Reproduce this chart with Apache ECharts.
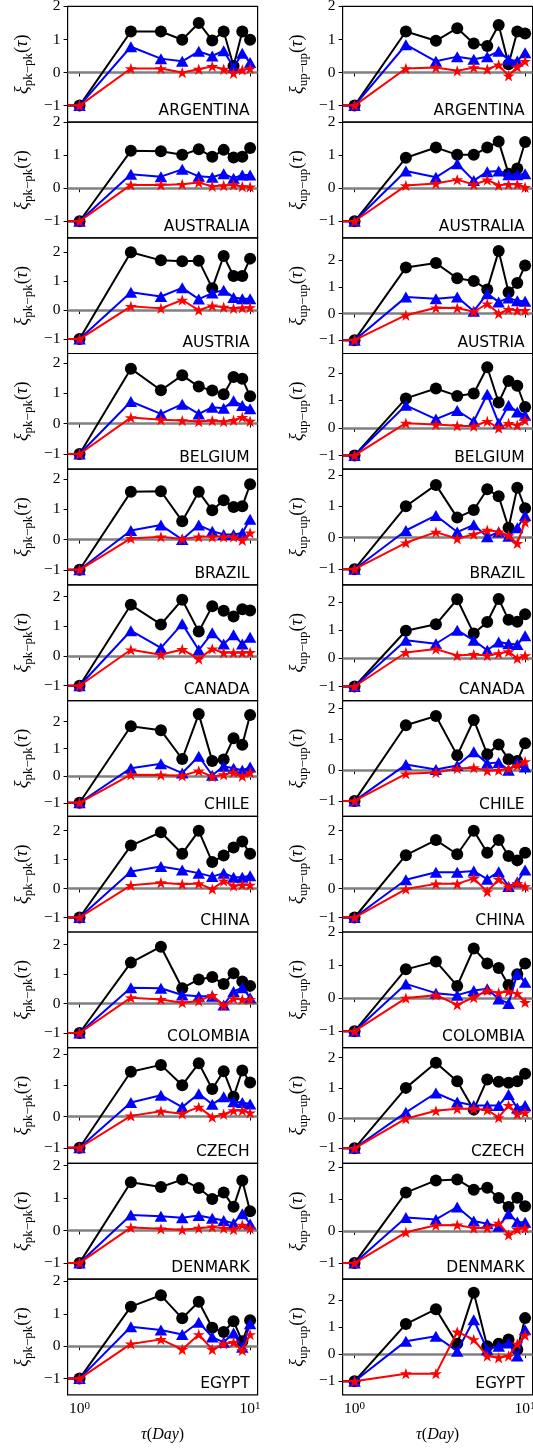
<!DOCTYPE html>
<html><head><meta charset="utf-8">
<script src="https://cdn.jsdelivr.net/npm/echarts@6/dist/echarts.min.js"></script>
<style>html,body{margin:0;padding:0;background:#fff}#c{width:533px;height:1448px}</style>
</head><body><div id="c"></div>
<script>
// ---------------- DATA ----------------
const TAU = [1, 2, 3, 4, 5, 6, 7, 8, 9, 10];
const COUNTRIES = ['ARGENTINA','AUSTRALIA','AUSTRIA','BELGIUM','BRAZIL','CANADA','CHILE','CHINA','COLOMBIA','CZECH','DENMARK','EGYPT'];
const Y_TICKS = [-1, 0, 1, 2, 3];
const X_TICKS = [1, 10];

// xi_pk-pk (left column)
const pkBlack = [
  [-1, 1.24, 1.24, 0.99, 1.50, 0.97, 1.24, 0.20, 1.24, 0.99],
  [-1, 1.13, 1.12, 1.01, 1.18, 0.95, 1.16, 0.93, 0.95, 1.22],
  [-1, 2.00, 1.72, 1.69, 1.71, 0.76, 1.87, 1.18, 1.18, 1.78],
  [-1, 1.81, 1.10, 1.59, 1.22, 1.09, 0.97, 1.54, 1.48, 0.90],
  [-1, 1.58, 1.60, 0.61, 1.58, 0.97, 1.30, 1.08, 1.10, 1.83],
  [-1, 1.72, 1.06, 1.89, 0.82, 1.67, 1.52, 1.33, 1.57, 1.53],
  [-1, 1.83, 1.68, 0.62, 2.28, 0.55, 0.60, 1.39, 1.15, 2.25],
  [-1, 1.48, 1.94, 1.20, 1.99, 0.91, 1.14, 1.41, 1.62, 1.20],
  [-1, 1.39, 1.93, 0.52, 0.82, 0.90, 0.66, 1.03, 0.75, 0.60],
  [-1, 1.43, 1.65, 1.00, 1.70, 0.88, 1.45, 0.63, 1.47, 1.09],
  [-1, 1.49, 1.34, 1.57, 1.31, 0.97, 1.17, 0.73, 1.54, 0.59],
  [-1, 1.22, 1.57, 0.86, 1.37, 0.57, 0.44, 0.77, 0.15, 0.80]
];
const pkBlue = [
  [-1, 0.78, 0.42, 0.34, 0.64, 0.50, 0.66, 0.15, 0.58, 0.30],
  [-1, 0.42, 0.35, 0.57, 0.36, 0.33, 0.44, 0.30, 0.40, 0.40],
  [-1, 0.62, 0.47, 0.77, 0.38, 0.59, 0.69, 0.44, 0.39, 0.39],
  [-1, 0.73, 0.32, 0.64, 0.32, 0.54, 0.51, 0.75, 0.60, 0.49],
  [-1, 0.30, 0.48, 0.00, 0.48, 0.28, 0.17, 0.17, 0.22, 0.67],
  [-1, 0.85, 0.27, 1.08, 0.20, 0.78, 0.40, 0.71, 0.40, 0.63],
  [-1, 0.28, 0.44, 0.10, 0.72, 0.02, 0.35, 0.28, 0.20, 0.32],
  [-1, 0.59, 0.76, 0.64, 0.53, 0.41, 0.53, 0.39, 0.39, 0.44],
  [-1, 0.54, 0.52, 0.29, 0.25, 0.25, -0.05, 0.41, 0.54, 0.20],
  [-1, 0.45, 0.68, 0.30, 0.73, 0.39, 0.63, 0.47, 0.45, 0.40],
  [-1, 0.48, 0.44, 0.39, 0.46, 0.38, 0.31, 0.22, 0.52, 0.20],
  [-1, 0.60, 0.50, 0.36, 0.74, 0.28, 0.12, 0.41, -0.03, 0.69]
];
const pkRed = [
  [-1, 0.12, 0.12, 0.00, 0.10, 0.19, 0.10, -0.02, 0.08, 0.12],
  [-1, 0.10, 0.10, 0.12, 0.17, 0.06, 0.08, 0.10, 0.05, 0.04],
  [-1, 0.13, 0.06, 0.35, 0.00, 0.15, 0.10, 0.06, 0.08, 0.09],
  [-1, 0.20, 0.13, 0.10, 0.07, 0.10, 0.07, 0.11, 0.21, 0.08],
  [-1, 0.04, 0.09, 0.02, 0.09, 0.09, 0.09, 0.09, -0.02, 0.22],
  [-1, 0.21, 0.04, 0.22, -0.10, 0.24, 0.11, 0.11, 0.11, 0.12],
  [-1, 0.04, 0.03, 0.00, 0.18, -0.03, 0.04, 0.13, -0.02, 0.12],
  [-1, 0.11, 0.20, 0.15, 0.17, -0.02, 0.26, 0.09, 0.13, 0.12],
  [-1, 0.20, 0.14, 0.03, 0.09, 0.28, -0.07, 0.17, 0.14, 0.14],
  [-1, 0.02, 0.17, 0.09, 0.30, -0.02, 0.07, 0.19, 0.19, 0.12],
  [-1, 0.09, 0.05, 0.02, 0.07, 0.11, 0.07, 0.03, 0.17, 0.06],
  [-1, 0.07, 0.21, -0.10, 0.36, -0.10, 0.07, 0.12, -0.13, 0.36]
];
// xi_up-up (right column)
const upBlack = [
  [-1, 1.24, 0.96, 1.34, 0.88, 0.80, 1.44, 0.25, 1.24, 1.18],
  [-1, 0.92, 1.23, 1.01, 1.01, 1.23, 1.41, 0.44, 0.60, 1.40],
  [-1, 1.73, 1.90, 1.33, 1.23, 0.91, 2.35, 0.80, 1.15, 1.81],
  [-1, 1.07, 1.43, 1.16, 1.25, 2.20, 0.92, 1.70, 1.53, 0.76],
  [-1, 1.00, 1.68, 0.64, 0.88, 1.54, 1.32, 0.32, 1.59, 0.94],
  [-1, 0.98, 1.21, 2.10, 0.88, 1.29, 2.11, 1.37, 1.30, 1.57],
  [-1, 1.46, 1.76, 0.48, 1.63, 0.52, 0.83, 0.35, 0.30, 0.87],
  [-1, 1.15, 1.67, 1.18, 1.99, 1.23, 1.67, 1.12, 0.97, 1.23],
  [-1, 0.87, 1.11, 0.37, 1.50, 1.05, 0.91, 0.40, 0.72, 1.05],
  [-1, 1.00, 1.83, 1.22, 0.28, 1.28, 1.20, 1.17, 1.22, 1.47],
  [-1, 1.20, 1.58, 1.61, 1.29, 1.35, 1.03, 0.75, 1.04, 0.77],
  [-1, 1.11, 1.66, 0.38, 2.27, 0.29, 0.38, 0.54, 0.17, 1.33]
];
const upBlue = [
  [-1, 0.84, 0.34, 0.48, 0.40, 0.48, 0.64, 0.39, 0.35, 0.60],
  [-1, 0.52, 0.33, 0.74, 0.23, 0.50, 0.52, 0.41, 0.41, 0.44],
  [-1, 0.62, 0.56, 0.62, 0.09, 0.75, 0.44, 0.59, 0.48, 0.46],
  [-1, 0.82, 0.32, 0.63, 0.24, 1.22, 0.17, 0.82, 0.58, 0.46],
  [-1, 0.23, 0.71, 0.18, 0.41, 0.03, 0.18, 0.05, 0.32, 0.71],
  [-1, 0.64, 0.52, 1.00, 0.64, 0.29, 0.58, 0.52, 0.49, 0.80],
  [-1, 0.18, 0.02, 0.15, 0.60, 0.22, 0.25, 0.00, 0.25, 0.10],
  [-1, 0.30, 0.56, 0.56, 0.60, 0.32, 0.58, 0.07, 0.22, 0.64],
  [-1, 0.43, 0.15, 0.09, 0.23, 0.28, -0.03, -0.16, 0.74, 0.48],
  [-1, 0.19, 0.83, 0.53, 0.42, 0.42, 0.42, 0.78, 0.33, 0.42],
  [-1, 0.42, 0.36, 0.75, 0.31, 0.23, 0.15, 0.54, 0.28, 0.27],
  [-1, 0.48, 0.66, 0.11, 1.27, 0.17, 0.29, 0.41, -0.07, 0.90]
];
const upRed = [
  [-1, 0.12, 0.15, 0.05, 0.15, 0.10, 0.23, -0.10, 0.17, 0.34],
  [-1, 0.08, 0.14, 0.26, 0.11, 0.25, 0.09, 0.12, 0.12, 0.03],
  [-1, -0.06, 0.22, 0.21, 0.07, 0.37, 0.00, 0.16, 0.12, 0.12],
  [-1, 0.17, 0.12, 0.08, 0.06, 0.24, -0.01, 0.16, 0.10, 0.27],
  [-1, -0.16, 0.18, -0.03, 0.11, 0.24, 0.19, 0.07, -0.18, 0.50],
  [-1, 0.21, 0.33, 0.10, 0.14, 0.10, 0.17, 0.24, 0.00, 0.10],
  [-1, -0.12, -0.08, 0.05, 0.08, -0.02, 0.00, 0.05, 0.15, 0.28],
  [-1, -0.02, 0.16, 0.16, 0.35, -0.11, 0.32, 0.05, 0.18, 0.07],
  [-1, 0.00, 0.09, -0.20, 0.02, 0.23, 0.16, 0.20, 0.14, -0.13],
  [-1, -0.02, 0.24, 0.31, 0.31, 0.27, 0.02, 0.42, 0.13, 0.18],
  [-1, -0.04, 0.18, 0.19, 0.09, 0.10, 0.25, -0.12, 0.05, 0.09],
  [-1, -0.72, -0.72, 0.82, 0.54, -0.07, -0.13, -0.07, 0.38, 0.70]
];

// ---------------- LAYOUT / STYLE ----------------
const TOP0 = 6.4, PANEL_H = 115.7, PANEL_W = 190;
const COL_LEFT = [67.6, 342.6];
const X_MIN = Math.pow(10, -0.07), X_MAX = Math.pow(10, 1.044);
const Y_MIN = -1.5;
const SERIF = 'Liberation Serif';
const STAR = 'path://M0,-1L0.2245,-0.309L0.951,-0.309L0.363,0.118L0.588,0.809L0,0.382L-0.588,0.809L-0.363,0.118L-0.951,-0.309L-0.2245,-0.309Z';
const STYLES = [
  {color: '#000000', symbol: 'circle', size: 12},
  {color: '#0000ff', symbol: 'triangle', size: [12.5, 11]},
  {color: '#ff0000', symbol: STAR, size: 12}
];
const nameRich = {
  x: {fontFamily: SERIF, fontStyle: 'italic', fontSize: 18, lineHeight: 24, color: '#000'},
  s: {fontFamily: SERIF, fontSize: 13, lineHeight: 13, verticalAlign: 'bottom', color: '#000'},
  p: {fontFamily: SERIF, fontSize: 18, lineHeight: 24, color: '#000'},
  t: {fontFamily: SERIF, fontStyle: 'italic', fontSize: 18, lineHeight: 24, color: '#000'}
};
const COLUMNS = [
  {label: '{x|ξ}{s|pk−pk}{p|(}{t|τ}{p|)}', sets: [pkBlack, pkBlue, pkRed]},
  {label: '{x|ξ}{s|up−up}{p|(}{t|τ}{p|)}', sets: [upBlack, upBlue, upRed]}
];

const grids = [], xAxes = [], yAxes = [], series = [], graphics = [];
COUNTRIES.forEach((country, r) => {
  COLUMNS.forEach((col, ci) => {
    const idx = grids.length;
    const top = TOP0 + r * PANEL_H;
    const left = COL_LEFT[ci];
    const isBottom = r === COUNTRIES.length - 1;
    const rows = col.sets.map(s => s[r]);
    const M = Math.max(...rows.flat());
    const yMax = Math.max(M, 1.5) + 0.5;
    const yt = Y_TICKS.filter(v => v >= Y_MIN && v <= yMax);
    grids.push({left, top, width: PANEL_W, height: PANEL_H, show: true, borderColor: '#000', borderWidth: 1.2,
      backgroundColor: 'transparent', containLabel: false, outerBoundsMode: 'none'});
    xAxes.push({
      gridIndex: idx, type: 'log', logBase: 10, min: X_MIN, max: X_MAX,
      axisLine: {show: false}, splitLine: {show: false}, minorTick: {show: false},
      axisTick: {show: true, customValues: X_TICKS, length: 4, lineStyle: {color: '#000', width: 1}},
      axisLabel: {show: isBottom, customValues: X_TICKS, margin: 6, color: '#000',
        formatter: v => '{b|10}{p|' + Math.round(Math.log10(v)) + '}',
        rich: {
          b: {fontFamily: SERIF, fontSize: 15.5, lineHeight: 16, padding: [6, 0, 0, 0], verticalAlign: 'bottom', color: '#000'},
          p: {fontFamily: SERIF, fontSize: 11, lineHeight: 11, verticalAlign: 'top', color: '#000'}
        }},
      name: isBottom ? '{i|τ}{n|(}{i|Day}{n|)}' : '', nameLocation: 'middle', nameGap: 32,
      nameTextStyle: {rich: {
        i: {fontFamily: SERIF, fontStyle: 'italic', fontSize: 16, color: '#000'},
        n: {fontFamily: SERIF, fontSize: 16, color: '#000'}
      }}
    });
    yAxes.push({
      gridIndex: idx, type: 'value', min: Y_MIN, max: yMax,
      axisLine: {show: false}, splitLine: {show: false},
      axisTick: {show: true, customValues: yt, length: 4, lineStyle: {color: '#000', width: 1}},
      axisLabel: {customValues: yt, margin: 7, color: '#000', fontFamily: SERIF, fontSize: 15.5,
        formatter: v => (v < 0 ? '−' + Math.abs(v) : String(v))},
      name: col.label, nameLocation: 'middle', nameRotate: 90, nameGap: 33,
      nameTextStyle: {rich: nameRich}
    });
    rows.forEach((vals, k) => {
      const st = STYLES[k];
      // the curve continues to the left edge of the log axis at its first value
      const data = [{value: [X_MIN, vals[0]], symbol: 'none'}]
        .concat(TAU.map((t, i) => [t, vals[i]]));
      const s = {
        type: 'line', xAxisIndex: idx, yAxisIndex: idx, data,
        symbol: st.symbol, symbolSize: st.size, symbolKeepAspect: true,
        lineStyle: {color: st.color, width: 2}, itemStyle: {color: st.color, borderWidth: 0},
        z: 3 + k, clip: true, silent: true, animation: false
      };
      if (k === 0) {
        s.markLine = {z: 1, silent: true, symbol: ['none', 'none'], label: {show: false}, animation: false,
          lineStyle: {color: '#808080', width: 2.5, type: 'solid'}, emphasis: {disabled: true},
          data: [{yAxis: 0}]};
      }
      series.push(s);
    });
    graphics.push({type: 'text', x: left + PANEL_W - 8, y: top + PANEL_H - 3, z: 20, silent: true,
      style: {text: country, font: '15.5px "DejaVu Sans"', fill: '#000', align: 'right', verticalAlign: 'bottom'}});
  });
});

const chart = echarts.init(document.getElementById('c'), null, {renderer: 'canvas'});
chart.setOption({
  animation: false,
  backgroundColor: '#ffffff',
  grid: grids, xAxis: xAxes, yAxis: yAxes, series, graphic: graphics
});
</script></body></html>
